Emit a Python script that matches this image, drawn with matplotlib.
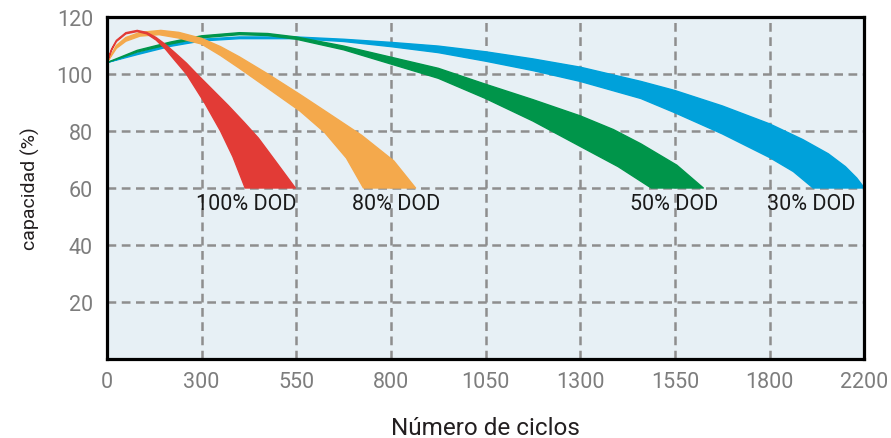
import numpy as np
import matplotlib
matplotlib.use("Agg")
import matplotlib.pyplot as plt

# x axis is drawn in grid steps; each step gets a cycle label
tick_labels = ["0", "300", "550", "800", "1050", "1300", "1550", "1800", "2200"]
y_ticks = [20, 40, 60, 80, 100, 120]

# each band: outer (upper/right) edge and inner (lower/left) edge, (x step, capacity %)
red_outer_x = [0, 0.05, 0.1, 0.2, 0.32, 0.42, 0.52, 0.62, 0.72, 0.84, 0.95, 1.1, 1.28, 1.45, 1.6, 1.79, 1.99]
red_outer_y = [104, 108.8, 111.8, 114.5, 115.3, 114.6, 112.8, 110.3, 107.4, 103.8, 100, 95, 89, 83, 77.5, 69, 60]
red_inner_x = [0, 0.05, 0.1, 0.2, 0.32, 0.42, 0.52, 0.62, 0.72, 0.84, 1.03, 1.2, 1.33, 1.46]
red_inner_y = [104, 108.4, 111.4, 114.1, 114.9, 114.1, 111.9, 108.7, 104.7, 100, 90, 80, 71, 60]

orange_outer_x = [0, 0.1, 0.2, 0.35, 0.57, 0.76, 1.0, 1.2, 1.4, 1.7, 2.04, 2.35, 2.69, 3.03, 3.26]
orange_outer_y = [104, 110, 112.8, 114.6, 115.3, 114.6, 112.5, 109.6, 106, 100, 92.8, 86, 78.5, 69.5, 60]
orange_inner_x = [0, 0.1, 0.2, 0.35, 0.55, 0.76, 1.0, 1.2, 1.4, 1.7, 2.04, 2.3, 2.53, 2.71]
orange_inner_y = [104, 109, 111.5, 113.3, 113.8, 112.6, 110.5, 106.5, 102, 95, 87, 79.5, 70.5, 60]

green_outer_x = [0, 0.32, 0.67, 1.0, 1.4, 1.7, 2.0, 2.5, 3.0, 3.5, 4.0, 4.5, 5.0, 5.35, 5.64, 6.02, 6.3]
green_outer_y = [104, 108.3, 111.2, 113.4, 114.5, 114.2, 113, 109.8, 105.9, 102, 96.4, 91, 85.3, 80.5, 75.5, 68, 60]
green_inner_x = [0, 0.32, 0.67, 1.0, 1.4, 1.7, 2.0, 2.5, 3.0, 3.5, 4.0, 4.5, 5.0, 5.4, 5.75]
green_inner_y = [104, 107.7, 110.5, 112.7, 113.8, 113.5, 112.2, 108.5, 103.5, 98.5, 91.4, 83.5, 74.6, 67.5, 60]

blue_outer_x = [0, 0.32, 0.67, 1.0, 1.4, 2.0, 2.5, 3.0, 3.5, 4.0, 4.5, 5.0, 5.64, 6.0, 6.5, 7.0, 7.35, 7.62, 7.8, 7.92, 8.0]
blue_outer_y = [104, 107.3, 110.3, 112.2, 113.0, 113, 112.2, 111.1, 109.8, 107.8, 105.3, 102.4, 97.4, 94.2, 88.8, 82.5, 77, 72, 67.5, 63.5, 60]
blue_inner_x = [0, 0.32, 0.67, 1.0, 1.4, 2.0, 2.5, 3.0, 3.5, 4.0, 4.5, 5.0, 5.64, 6.0, 6.5, 7.0, 7.25, 7.46]
blue_inner_y = [104, 106.8, 109.7, 111.6, 112.4, 112.4, 111.4, 109.6, 107.5, 104.5, 101.2, 97.4, 91.4, 86.4, 79, 70.7, 65.8, 60]

band_labels = ["100% DOD", "80% DOD", "50% DOD", "30% DOD"]
label_x = [1.47, 3.06, 5.99, 7.44]
label_y = 54.5

colors = ["#e23b36", "#f4a94c", "#00954a", "#00a1da"]
fonts = ["Roboto", "DejaVu Sans"]

fig = plt.figure(figsize=(8.91, 4.39), dpi=100)
ax = fig.add_axes([0.120, 0.180, 0.850, 0.779])
ax.set_facecolor("#e7f0f5")

bands = [
    (red_outer_x, red_outer_y, red_inner_x, red_inner_y),
    (orange_outer_x, orange_outer_y, orange_inner_x, orange_inner_y),
    (green_outer_x, green_outer_y, green_inner_x, green_inner_y),
    (blue_outer_x, blue_outer_y, blue_inner_x, blue_inner_y),
]
# draw back to front so red ends up on top
for (ox, oy, ix, iy), c in reversed(list(zip(bands, colors))):
    xs = np.concatenate([ox, ix[::-1]])
    ys = np.concatenate([oy, iy[::-1]])
    ax.fill(xs, ys, color=c, lw=1.0, ec=c, zorder=3, joinstyle="round")

for t, x in zip(band_labels, label_x):
    ax.text(x, label_y, t, ha="center", va="center", fontsize=15.5,
            family=fonts, color="#1a1a1a", zorder=4)

ax.set_xlim(0, 8)
ax.set_ylim(0, 120)
ax.set_xticks(range(len(tick_labels)))
ax.set_xticklabels(tick_labels)
ax.set_yticks(y_ticks)
ax.tick_params(length=0, labelsize=15.5, labelcolor="#7d7d7d")
ax.tick_params(axis="x", pad=9)
ax.tick_params(axis="y", pad=10)
for lab in ax.get_xticklabels() + ax.get_yticklabels():
    lab.set_family(fonts)

ax.grid(True, color="#8e8e8e", lw=1.8, ls=(0, (3.5, 2.2)), zorder=1)
for s in ax.spines.values():
    s.set_linewidth(2.3)
    s.set_color("black")
    s.set_zorder(5)

ax.set_xlabel("Número de ciclos", fontsize=17.5, color="#231f20", labelpad=17,
              family=fonts)
ax.set_ylabel("capacidad (%)", fontsize=14, color="#231f20", labelpad=12,
              family=fonts)

fig.savefig("out.png", dpi=100)
